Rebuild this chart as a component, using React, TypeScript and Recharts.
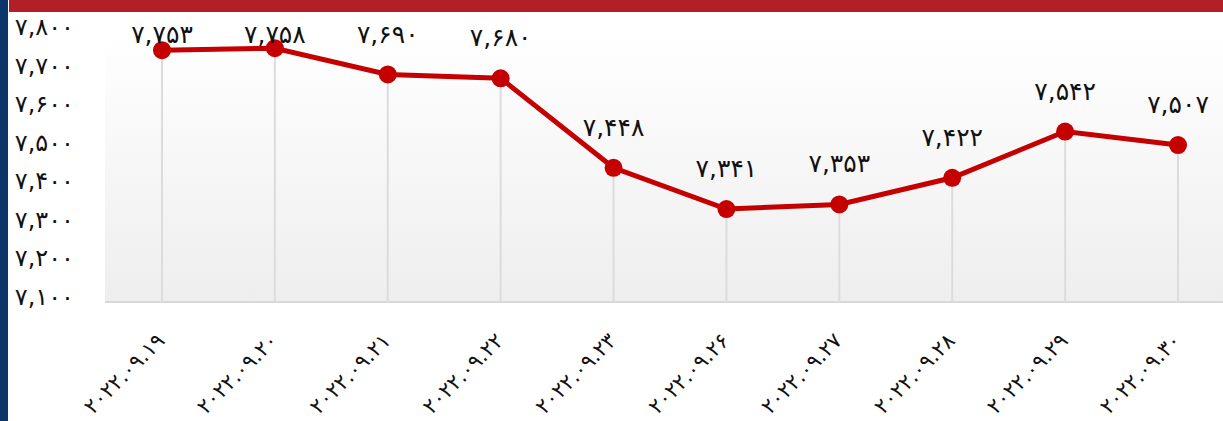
import { CartesianGrid, LabelList, Line, LineChart, XAxis, YAxis } from 'recharts'

// قیمت روزانه — خط قرمز با اعداد فارسی، محور تاریخ چرخیده

const dates = [
  '۲۰۲۲.۰۹.۱۹',
  '۲۰۲۲.۰۹.۲۰',
  '۲۰۲۲.۰۹.۲۱',
  '۲۰۲۲.۰۹.۲۲',
  '۲۰۲۲.۰۹.۲۳',
  '۲۰۲۲.۰۹.۲۶',
  '۲۰۲۲.۰۹.۲۷',
  '۲۰۲۲.۰۹.۲۸',
  '۲۰۲۲.۰۹.۲۹',
  '۲۰۲۲.۰۹.۳۰',
]
const prices = [7753, 7758, 7690, 7680, 7448, 7341, 7353, 7422, 7542, 7507]
const yTicks = [7100, 7200, 7300, 7400, 7500, 7600, 7700, 7800]

const W = 1223
const H = 421
const TOP = 32
const BOTTOM = 119
const PLOT_BOTTOM = H - BOTTOM
const RED = '#c50000'
const FONT = '"DejaVu Sans", sans-serif'

const faDigits = '۰۱۲۳۴۵۶۷۸۹'
const fa = (n: number) =>
  n.toLocaleString('en-US').replace(/\d/g, (d) => faDigits[Number(d)])

const data = dates.map((d, i) => ({ date: d, price: prices[i] }))

function Dot({ cx, cy, index }: any) {
  return (
    <g key={`dot-${index}`}>
      <line x1={cx} x2={cx} y1={cy} y2={PLOT_BOTTOM} stroke="#dcdcdc" strokeWidth={2} />
      <circle cx={cx} cy={cy} r={9} fill={RED} />
    </g>
  )
}

function PointLabel({ x, y, value }: any) {
  const baseY = Math.max(y - 32, 43)
  return (
    <text x={x} y={baseY} textAnchor="middle" fontFamily={FONT} fontSize={25} fill="#111">
      {fa(value)}
    </text>
  )
}

function YTick({ y, payload }: any) {
  return (
    <text x={74} y={y + 3} textAnchor="end" fontFamily={FONT} fontSize={24} fill="#111">
      {fa(payload.value)}
    </text>
  )
}

function XTick({ x, y, payload }: any) {
  const ax = x + 4
  const ay = y + 32
  return (
    <text
      x={ax}
      y={ay}
      textAnchor="end"
      fontFamily={FONT}
      fontSize={21}
      fill="#111"
      transform={`rotate(-45 ${ax} ${ay})`}
    >
      {payload.value}
    </text>
  )
}

export default function App() {
  return (
    <div style={{ position: 'absolute', left: 0, top: 0, width: W, height: H, background: '#fff', overflow: 'hidden' }}>
      <div style={{ position: 'absolute', left: 0, top: 0, width: 8, height: H, background: '#0c356a' }} />
      <div style={{ position: 'absolute', left: 9, top: 0, width: W - 9, height: 12, background: '#b21f27' }} />
      <div style={{ position: 'absolute', left: 0, top: 0 }}>
        <LineChart width={W} height={H} data={data} margin={{ top: TOP, right: 0, left: 0, bottom: 0 }}>
          <defs>
            <linearGradient id="plotBg" x1="0" y1="0" x2="0" y2="1">
              <stop offset="0%" stopColor="#ffffff" />
              <stop offset="100%" stopColor="#eeeeee" />
            </linearGradient>
          </defs>
          <CartesianGrid horizontal={false} vertical={false} fill="url(#plotBg)" />
          <XAxis
            dataKey="date"
            interval={0}
            padding={{ left: 57, right: 45 }}
            tickLine={false}
            axisLine={{ stroke: '#d9d9d9', strokeWidth: 2 }}
            tick={<XTick />}
            height={BOTTOM}
          />
          <YAxis
            width={105}
            domain={[7100, 7800]}
            ticks={yTicks}
            interval={0}
            axisLine={false}
            tickLine={false}
            tick={<YTick />}
          />
          <Line
            type="linear"
            dataKey="price"
            stroke={RED}
            strokeWidth={5}
            dot={<Dot />}
            activeDot={false}
            isAnimationActive={false}
          >
            <LabelList dataKey="price" content={<PointLabel />} />
          </Line>
        </LineChart>
      </div>
    </div>
  )
}
